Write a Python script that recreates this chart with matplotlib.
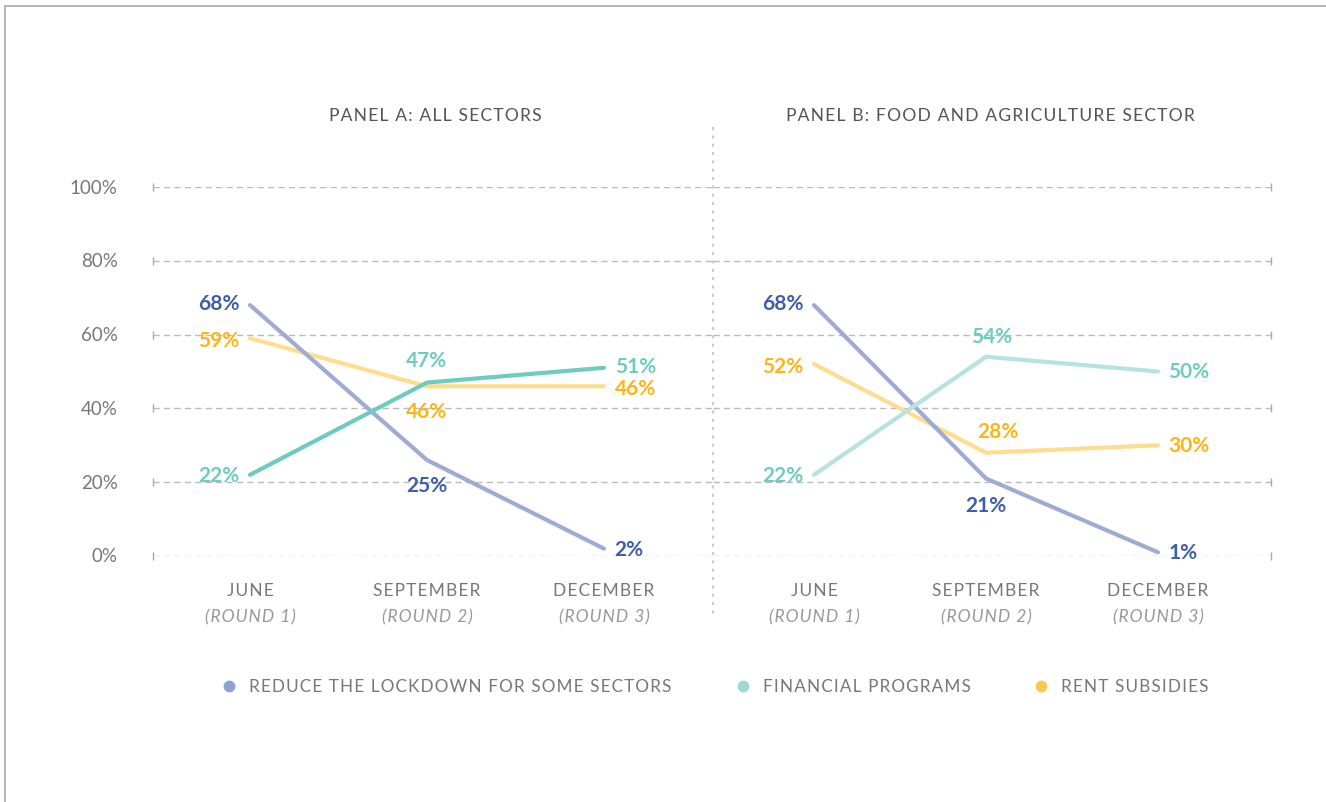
import numpy as np
import matplotlib.pyplot as plt
from matplotlib.lines import Line2D
from matplotlib.patches import Rectangle

plt.rcParams['font.family'] = ['Lato', 'DejaVu Sans']

# data
months = ["JUNE", "SEPTEMBER", "DECEMBER"]
rounds = ["(ROUND 1)", "(ROUND 2)", "(ROUND 3)"]
y_ticks = [0, 20, 40, 60, 80, 100]

a_lockdown = [68, 26, 2]
a_financial = [22, 47, 51]
a_rent = [59, 46, 46]

b_lockdown = [68, 21, 1]
b_financial = [22, 54, 50]
b_rent = [52, 28, 30]

a_labels_lockdown = ["68%", "25%", "2%"]
a_labels_financial = ["22%", "47%", "51%"]
a_labels_rent = ["59%", "46%", "46%"]
b_labels_lockdown = ["68%", "21%", "1%"]
b_labels_financial = ["22%", "54%", "50%"]
b_labels_rent = ["52%", "28%", "30%"]

legend_names = ["REDUCE THE LOCKDOWN FOR SOME SECTORS", "FINANCIAL PROGRAMS", "RENT SUBSIDIES"]

# colours
c_lock_line = "#9DABD5"
c_lock_text = "#3F5DA9"
c_fin_line_a = "#6ECBC1"
c_fin_line_b = "#B4E3E0"
c_fin_text = "#6ECBC1"
c_rent_line = "#FEDE8E"
c_rent_text = "#FDB515"
grey = "#777777"

W, H = 1326, 803
fig = plt.figure(figsize=(W / 100, H / 100), dpi=100)

def fx(px):
    return px / W

def fy(py):
    return 1 - py / H

def spaced(s):
    # fake letter spacing with hair spaces
    return "\u200a".join(s)

# frame (cut at right / bottom like the original)
fig.patches.append(Rectangle((fx(5), fy(900)), 2, fy(7) - fy(900), transform=fig.transFigure,
                             fill=False, edgecolor="#AAAAAA", lw=1.2))

y0, y1 = fy(557), fy(188)
axA = fig.add_axes([fx(153), y0, fx(713) - fx(153), y1 - y0])
axB = fig.add_axes([fx(713), y0, fx(1271) - fx(713), y1 - y0])

x = np.arange(3)
axA.set_xlim(-97 / 177, (713 - 250) / 177)
axB.set_xlim(-101 / 172, (1271 - 814) / 172)

for ax in (axA, axB):
    ax.set_ylim(0, 100)
    for s in ax.spines.values():
        s.set_visible(False)
    ax.set_xticks([])
    ax.set_yticks([])
    for t in y_ticks:
        ax.axhline(t, color="#BBBBBB", lw=1, ls=(0, (4.5, 3)), zorder=0)
    for i in range(3):
        ax.text(x[i], -9.3, spaced(months[i]), ha="center", va="center", fontsize=12.5,
                color=grey)
        ax.text(x[i], -16.3, spaced(rounds[i]), ha="center", va="center", fontsize=12.5,
                color="#999999", style="italic")

# end caps of the gridlines
for t in y_ticks:
    axA.plot([axA.get_xlim()[0]], [t], marker="|", color="#AAAAAA", ms=6, clip_on=False)
    axB.plot([axB.get_xlim()[1]], [t], marker="|", color="#AAAAAA", ms=6, clip_on=False)
    axA.text(axA.get_xlim()[0] - 0.2, t, f"{t}%", ha="right", va="center",
             fontsize=13.5, color=grey)

lw = 3
axA.plot(x, a_lockdown, color=c_lock_line, lw=lw, solid_capstyle="round", zorder=3)
axA.plot(x, a_rent, color=c_rent_line, lw=lw, solid_capstyle="round", zorder=2)
axA.plot(x, a_financial, color=c_fin_line_a, lw=lw, solid_capstyle="round", zorder=4)

axB.plot(x, b_lockdown, color=c_lock_line, lw=lw, solid_capstyle="round", zorder=3)
axB.plot(x, b_rent, color=c_rent_line, lw=lw, solid_capstyle="round", zorder=2)
axB.plot(x, b_financial, color=c_fin_line_b, lw=lw, solid_capstyle="round", zorder=4)

kw = dict(fontsize=15, fontweight="bold", va="center")

def lab(ax, xi, yv, s, col, dx=0, dy=0, ha="center"):
    ax.text(xi + dx, yv + dy, s, color=col, ha=ha, zorder=5, **kw)

# panel A labels
lab(axA, 0, a_lockdown[0], a_labels_lockdown[0], c_lock_text, dx=-0.06, dy=0.5, ha="right")
lab(axA, 0, a_rent[0], a_labels_rent[0], c_rent_text, dx=-0.06, dy=-0.5, ha="right")
lab(axA, 0, a_financial[0], a_labels_financial[0], c_fin_text, dx=-0.06, ha="right")
lab(axA, 1, a_financial[1], a_labels_financial[1], c_fin_text, dy=6)
lab(axA, 1, a_rent[1], a_labels_rent[1], c_rent_text, dy=-6.8)
lab(axA, 1, a_lockdown[1], a_labels_lockdown[1], c_lock_text, dy=-6.8)
lab(axA, 2, a_financial[2], a_labels_financial[2], c_fin_text, dx=0.06, dy=0.5, ha="left")
lab(axA, 2, a_rent[2], a_labels_rent[2], c_rent_text, dx=0.06, dy=-0.5, ha="left")
lab(axA, 2, a_lockdown[2], a_labels_lockdown[2], c_lock_text, dx=0.06, ha="left")

# panel B labels
lab(axB, 0, b_lockdown[0], b_labels_lockdown[0], c_lock_text, dx=-0.06, dy=0.5, ha="right")
lab(axB, 0, b_rent[0], b_labels_rent[0], c_rent_text, dx=-0.06, dy=-0.5, ha="right")
lab(axB, 0, b_financial[0], b_labels_financial[0], c_fin_text, dx=-0.06, ha="right")
lab(axB, 1, b_financial[1], b_labels_financial[1], c_fin_text, dx=0.03, dy=5.7)
lab(axB, 1, b_rent[1], b_labels_rent[1], c_rent_text, dx=0.07, dy=5.8)
lab(axB, 1, b_lockdown[1], b_labels_lockdown[1], c_lock_text, dy=-7.2)
lab(axB, 2, b_financial[2], b_labels_financial[2], c_fin_text, dx=0.06, ha="left")
lab(axB, 2, b_rent[2], b_labels_rent[2], c_rent_text, dx=0.06, ha="left")
lab(axB, 2, b_lockdown[2], b_labels_lockdown[2], c_lock_text, dx=0.06, ha="left")

# panel titles
fig.text(fx(435), fy(116), spaced("PANEL A: ALL SECTORS"), ha="center", va="center",
         fontsize=12.6, color="#555555")
fig.text(fx(990), fy(116), spaced("PANEL B: FOOD AND AGRICULTURE SECTOR"), ha="center",
         va="center", fontsize=12.6, color="#555555")

# divider
fig.add_artist(Line2D([fx(713), fx(713)], [fy(128), fy(615)], color="#CCCCCC", lw=1.5,
                      ls=(0, (1.5, 2.5))))

# legend
leg_cols = ["#8FA3D3", "#9ED9D6", "#FDC94C"]
leg_x = [229, 743, 1041]
for name, col, lx in zip(legend_names, leg_cols, leg_x):
    fig.add_artist(Line2D([fx(lx)], [fy(687)], marker="o", ms=7.5, color=col, lw=0))
    fig.text(fx(lx + 20), fy(687), spaced(name), ha="left", va="center", fontsize=12.3,
             color=grey)

fig.savefig("out.png", dpi=100)
